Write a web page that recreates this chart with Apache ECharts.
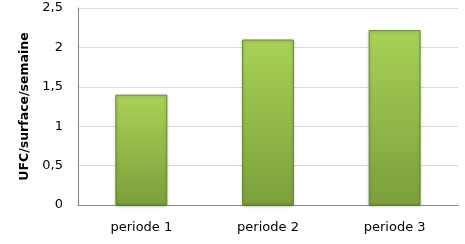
<!DOCTYPE html>
<html>
<head>
<meta charset="utf-8">
<script src="https://cdn.jsdelivr.net/npm/echarts@6/dist/echarts.min.js"></script>
<style>
  html, body { margin: 0; padding: 0; background: #fff; }
  #chart { width: 465px; height: 244px; }
</style>
</head>
<body>
<div id="chart"></div>
<script>
var categories = ['periode 1', 'periode 2', 'periode 3'];
var values = [1.4, 2.1, 2.22];
var yTicks = [0, 0.5, 1, 1.5, 2, 2.5];

var chart = echarts.init(document.getElementById('chart'));
var font = 'DejaVu Sans';

chart.setOption({
  animation: false,
  grid: { left: 78, right: 7, top: 8, bottom: 39 },
  xAxis: {
    type: 'category',
    data: categories,
    axisLine: { lineStyle: { color: '#868686' } },
    axisTick: { show: false },
    axisLabel: { color: '#000', fontFamily: font, fontSize: 13, margin: 16 }
  },
  yAxis: {
    type: 'value',
    min: yTicks[0],
    max: yTicks[yTicks.length - 1],
    interval: 0.5,
    name: 'UFC/surface/semaine',
    nameLocation: 'middle',
    nameGap: 45,
    nameTextStyle: { color: '#000', fontFamily: font, fontSize: 12.5, fontWeight: 'bold' },
    axisLine: { show: true, lineStyle: { color: '#868686' } },
    axisTick: { show: false },
    splitLine: { lineStyle: { color: '#d9d9d9' } },
    axisLabel: {
      color: '#000', fontFamily: font, fontSize: 13, margin: 15,
      formatter: function (v) { return String(v).replace('.', ','); }
    }
  },
  series: [{
    type: 'bar',
    data: values,
    barWidth: '41%',
    itemStyle: {
      color: new echarts.graphic.LinearGradient(0, 0, 0, 1, [
        { offset: 0, color: '#a9d256' },
        { offset: 1, color: '#7c9f3c' }
      ]),
      borderColor: '#6a8c30',
      borderWidth: 1,
      shadowColor: 'rgba(0,0,0,0.25)',
      shadowBlur: 3,
      shadowOffsetY: 1
    }
  }]
});
</script>
</body>
</html>
